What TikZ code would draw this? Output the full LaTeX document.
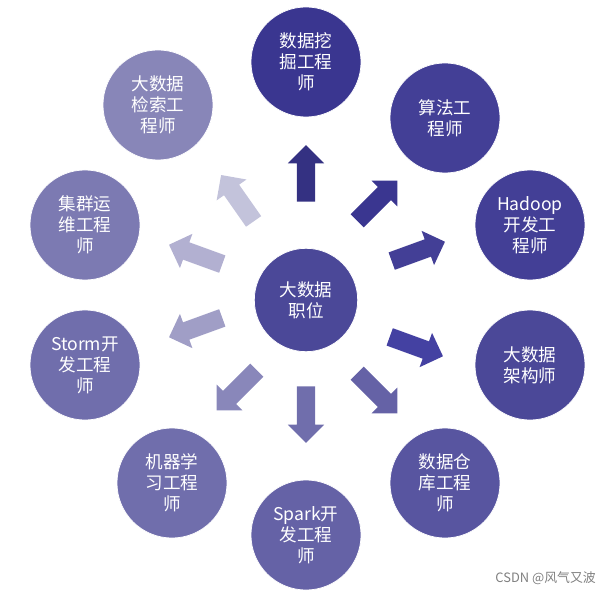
\documentclass[tikz,border=0pt]{standalone}
\usepackage{fontspec}
\newfontfamily\cjk{Noto Sans CJK SC}
\usetikzlibrary{shapes.arrows}

\definecolor{c1}{HTML}{3A3690}
\definecolor{c2}{HTML}{433F96}
\definecolor{c3}{HTML}{4B4898}
\definecolor{c4}{HTML}{5855A0}
\definecolor{c5}{HTML}{6562A6}
\definecolor{c6}{HTML}{706EAC}
\definecolor{c7}{HTML}{7C7AB2}
\definecolor{c8}{HTML}{8886B8}

\tikzset{
  job/.style={circle, minimum size=3.3cm, inner sep=0pt, text width=2.3cm, align=center,
    text=white, font=\cjk\fontsize{15}{18}\selectfont, draw=white, line width=0.6pt},
  blk/.style={single arrow, minimum height=1.7cm, inner xsep=0pt, inner ysep=0.27cm,
    single arrow head extend=0.27cm, single arrow head indent=0pt, draw=none}
}

\begin{document}
\begin{tikzpicture}[x=0.03cm, y=-0.03cm]
      \useasboundingbox (0,0) rectangle (612,594);
      %%%%%%%%%%%%%%%%%%%%%%%%%%%%%%%%%%%%%%%%%%%%%%%
      \node[job, fill=c3, minimum size=3.1cm] at (306,300) (core) {大数据\\职位};
      %%%%%%%%%%%%%%%%%%%%%%%%%%%%%%%%%%%%%%%%%%%%%%%
      \node[job, fill=c1] at (306,62)  (mining)  {数据挖\\掘工程\\师};
      \node[job, fill=c2] at (445,118) (algo)    {算法工\\程师};
      \node[job, fill=c2] at (530,225) (hadoop)  {Hadoop\\开发工\\程师};
      \node[job, fill=c3] at (530,365) (arch)    {大数据\\架构师};
      \node[job, fill=c4] at (445,483) (dw)      {数据仓\\库工程\\师};
      \node[job, fill=c5] at (306,535) (spark)   {Spark开\\发工程\\师};
      \node[job, fill=c6] at (172,483) (ml)      {机器学\\习工程\\师};
      \node[job, fill=c6] at (85,365)  (storm)   {Storm开\\发工程\\师};
      \node[job, fill=c7] at (85,225)  (ops)     {集群运\\维工程\\师};
      \node[job, fill=c8] at (158,105) (search)  {大数据\\检索工\\程师};
      %%%%%%%%%%%%%%%%%%%%%%%%%%%%%%%%%%%%%%%%%%%%%%%
      \node[blk, fill=c1!90!black, rotate=90]  at (306,178) (a1)  {};
      \node[blk, fill=c1, rotate=45]           at (374,204) (a2)  {};
      \node[blk, fill=c2, rotate=20]           at (414,253) (a3)  {};
      \node[blk, fill=c3!90!blue, rotate=-20]  at (412,345) (a4)  {};
      \node[blk, fill=c5, rotate=-45]          at (374,390) (a5)  {};
      \node[blk, fill=c6, rotate=-90]          at (306,410) (a6)  {};
      \node[blk, fill=c7!90!white, rotate=-135] at (240,387) (a7) {};
      \node[blk, fill=c8!80!white, rotate=200] at (200,326) (a8)  {};
      \node[blk, fill=c8!65!white, rotate=160] at (200,256) (a9)  {};
      \node[blk, fill=c8!50!white, rotate=125] at (240,202) (a10) {};
      %%%%%%%%%%%%%%%%%%%%%%%%%%%%%%%%%%%%%%%%%%%%%%%
      \node[anchor=east, text=gray, font=\cjk\fontsize{11}{13}\selectfont] at (600,578) (mark) {CSDN @风气又波};
\end{tikzpicture}
\end{document}
